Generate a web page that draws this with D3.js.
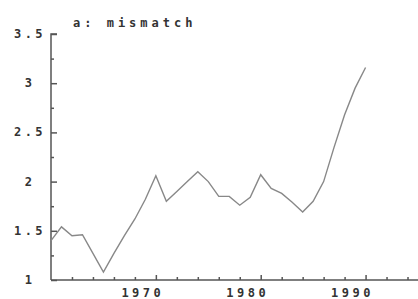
<!DOCTYPE html>
<html>
<head>
<meta charset="utf-8">
<script src="https://cdn.jsdelivr.net/npm/d3@7"></script>
<style>
  body { margin: 0; background: #fff; }
  text { font-family: "DejaVu Sans Mono", monospace; font-weight: bold; fill: #333; }
</style>
</head>
<body>
<div id="chart"></div>
<script>
// annual series
const years = [1960, 1961, 1962, 1963, 1964, 1965, 1966, 1967, 1968, 1969,
  1970, 1971, 1972, 1973, 1974, 1975, 1976, 1977, 1978, 1979,
  1980, 1981, 1982, 1983, 1984, 1985, 1986, 1987, 1988, 1989, 1990];
const values = [1.40, 1.54, 1.45, 1.46, 1.27, 1.08, 1.27, 1.45, 1.62, 1.82,
  2.06, 1.80, 1.90, 2.00, 2.10, 2.00, 1.85, 1.85, 1.76, 1.84,
  2.07, 1.93, 1.88, 1.79, 1.69, 1.80, 2.00, 2.35, 2.68, 2.95, 3.16];
const yTicks = [1, 1.5, 2, 2.5, 3, 3.5];
const xTicks = [1970, 1980, 1990];
const title = "a: mismatch";

const width = 418;
const height = 299;

const svg = d3.select("#chart")
  .append("svg")
  .attr("width", width)
  .attr("height", height);

const x = d3.scaleLinear().domain([1960, 1995]).range([51, 418]);
const y = d3.scaleLinear().domain([1, 3.5]).range([280, 34]);

// y axis, ticks inward
const yAxis = d3.axisRight(y)
  .tickValues(yTicks)
  .tickSize(6)
  .tickFormat("");
const yMinor = d3.axisRight(y)
  .tickValues(d3.range(1.25, 3.5, 0.5))
  .tickSize(3)
  .tickFormat("");

const gy = svg.append("g").attr("transform", "translate(" + x(1960) + ",0)").call(yAxis);
svg.append("g").attr("transform", "translate(" + x(1960) + ",0)").call(yMinor)
  .select(".domain").remove();

// x axis, ticks inward
const xAxis = d3.axisTop(x)
  .tickValues(xTicks)
  .tickSize(5)
  .tickFormat("");
const xMinor = d3.axisTop(x)
  .tickValues(d3.range(1962, 1995, 2).filter(d => d % 10 !== 0))
  .tickSize(3)
  .tickFormat("");

const gx = svg.append("g").attr("transform", "translate(0," + y(1) + ")").call(xAxis);
svg.append("g").attr("transform", "translate(0," + y(1) + ")").call(xMinor)
  .select(".domain").remove();

svg.selectAll(".domain, .tick line")
  .attr("stroke", "#555")
  .attr("stroke-width", 1.5);
gx.select(".domain").attr("d", "M" + x(1960) + ",0H" + width);
gy.select(".domain").attr("d", "M0," + y(1) + "V" + y(3.5) + "H6");

// tick labels
svg.selectAll(".ylab")
  .data(yTicks)
  .enter()
  .append("text")
  .attr("class", "ylab")
  .attr("x", 30)
  .attr("y", d => y(d) + 4)
  .attr("text-anchor", "middle")
  .style("font-size", "12px")
  .style("letter-spacing", "3.5px")
  .text(d => d3.format("")(d));

svg.selectAll(".xlab")
  .data(xTicks)
  .enter()
  .append("text")
  .attr("class", "xlab")
  .attr("x", d => x(d) - 13)
  .attr("y", 297)
  .attr("text-anchor", "middle")
  .style("font-size", "12px")
  .style("letter-spacing", "3.5px")
  .text(d => d);

svg.append("text")
  .attr("x", 73)
  .attr("y", 27)
  .style("font-size", "12px")
  .style("letter-spacing", "4px")
  .text(title);

const line = d3.line()
  .x((d, i) => x(years[i]))
  .y(d => y(d));

svg.append("path")
  .datum(values)
  .attr("fill", "none")
  .attr("stroke", "#888")
  .attr("stroke-width", 1.4)
  .attr("d", line);
</script>
</body>
</html>
